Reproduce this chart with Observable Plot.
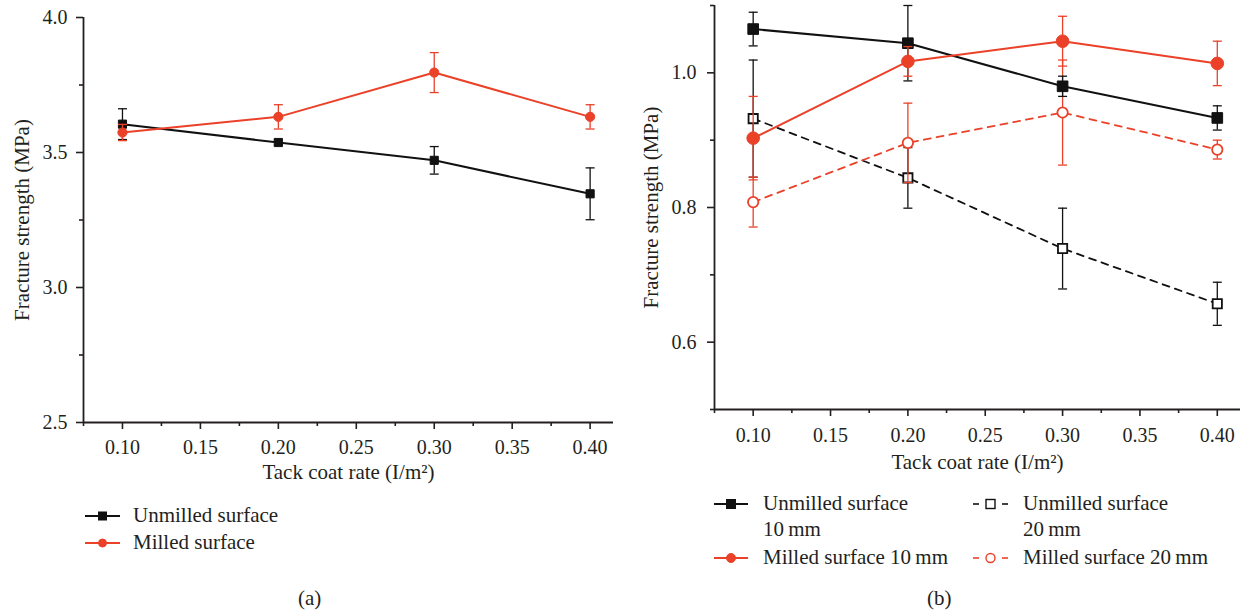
<!DOCTYPE html>
<html><head><meta charset="utf-8">
<script src="https://cdn.jsdelivr.net/npm/d3@7"></script>
<script src="https://cdn.jsdelivr.net/npm/@observablehq/plot@0.6"></script>
<style>
body{margin:0;background:#fff;}
#wrap{position:relative;width:1242px;height:614px;font-family:"Liberation Serif",serif;color:#231f20;overflow:hidden;}
.pl{position:absolute;top:0;}
.lg{position:absolute;font-size:21px;line-height:21px;white-space:nowrap;}
</style></head><body><div id="wrap"></div>
<script>
// ---- data ----
const rates = [0.10, 0.20, 0.30, 0.40];
const aUnmilled = [3.605, 3.537, 3.471, 3.347];
const aUnmilledErr = [0.057, 0.010, 0.051, 0.096];
const aMilled = [3.574, 3.632, 3.796, 3.632];
const aMilledErr = [0.030, 0.045, 0.074, 0.045];
const bUnmilled10 = [1.065, 1.044, 0.980, 0.933];
const bUnmilled10Err = [0.025, 0.056, 0.015, 0.018];
const bMilled10 = [0.903, 1.017, 1.047, 1.014];
const bMilled10Err = [0.062, 0.022, 0.037, 0.033];
const bUnmilled20 = [0.932, 0.844, 0.739, 0.657];
const bUnmilled20Err = [0.087, 0.045, 0.060, 0.032];
const bMilled20 = [0.808, 0.896, 0.941, 0.886];
const bMilled20Err = [0.037, 0.059, 0.078, 0.014];
const xTicks = [0.10, 0.15, 0.20, 0.25, 0.30, 0.35, 0.40];
const xMinor = [0.075, 0.125, 0.175, 0.225, 0.275, 0.325, 0.375];
const aYTicks = [2.5, 3.0, 3.5, 4.0];
const aYMinor = [2.75, 3.25, 3.75];
const bYTicks = [0.6, 0.8, 1.0];
const bYMinor = [0.5, 0.7, 0.9, 1.1];
const xDomain = [0.075, 0.415];
const aYDomain = [2.5, 4.0];
const bYDomain = [0.5, 1.1];
const xTitle = "Tack coat rate (I/m\u00B2)";
const yTitle = "Fracture strength (MPa)";
const legendA = ["Unmilled surface", "Milled surface"];
const legendB = [["Unmilled surface", "10\u2009mm"], ["Milled surface 10\u2009mm"], ["Unmilled surface", "20\u2009mm"], ["Milled surface 20\u2009mm"]];

const RED = "#ea4128", BLK = "#111", TXT = "#231f20";
const cap = {draw(ctx, size){ const r = Math.sqrt(size / Math.PI); ctx.moveTo(-r, 0); ctx.lineTo(r, 0); }};

function rows(vals, errs){ return rates.map((x, i) => ({x, y: vals[i], lo: vals[i] - errs[i], hi: vals[i] + errs[i]})); }

function seriesMarks(data, o){
  return [
    Plot.ruleX(data, {x: "x", y1: "lo", y2: "hi", stroke: o.color, strokeWidth: 1.3}),
    Plot.dot(data, {x: "x", y: "lo", symbol: cap, r: 4.5, stroke: o.color, strokeWidth: 1.3}),
    Plot.dot(data, {x: "x", y: "hi", symbol: cap, r: 4.5, stroke: o.color, strokeWidth: 1.3}),
    Plot.line(data, {x: "x", y: "y", stroke: o.color, strokeWidth: o.width, strokeDasharray: o.dash}),
    Plot.dot(data, {x: "x", y: "y", symbol: o.symbol, r: o.r, fill: o.fill, stroke: o.color, strokeWidth: o.sw || 1})
  ];
}

function axes(yTicks, yMinor, yDom, pad){
  return [
    Plot.axisX({ticks: xTicks, tickSize: 7, tickPadding: pad.x, tickFormat: d3.format(".2f"), strokeWidth: 1.6, label: null, fill: TXT, fontSize: 20}),
    Plot.axisX({ticks: xMinor, tickSize: 4, tickFormat: () => "", strokeWidth: 1.6, label: null}),
    Plot.axisY({ticks: yTicks, tickSize: 7, tickPadding: pad.y, tickFormat: d3.format(".1f"), strokeWidth: 1.6, label: null, fill: TXT, fontSize: 20}),
    Plot.axisY({ticks: yMinor, tickSize: 4, tickFormat: () => "", strokeWidth: 1.6, label: null}),
    Plot.ruleY([yDom[0]], {strokeWidth: 1.8}),
    Plot.ruleX([xDomain[0]], {strokeWidth: 1.8}),
    Plot.text([yTitle], {text: d => d, frameAnchor: "left", textAnchor: "middle", dx: pad.ytx, rotate: -90, fontSize: 21, fill: TXT}),
    Plot.text([xTitle], {text: d => d, frameAnchor: "bottom", textAnchor: "middle", dy: pad.xty, lineAnchor: "bottom", fontSize: 21, fill: TXT})
  ];
}

const style = {fontFamily: '"Liberation Serif", serif', fontSize: "20px", color: TXT, background: "transparent", overflow: "visible"};

const left = Plot.plot({
  width: 620, height: 480, marginLeft: 83, marginRight: 7, marginTop: 17, marginBottom: 58,
  style,
  x: {domain: xDomain}, y: {domain: aYDomain},
  marks: [
    ...axes(aYTicks, aYMinor, aYDomain, {x: 10, y: 9, ytx: -61, xty: 56}),
    ...seriesMarks(rows(aUnmilled, aUnmilledErr), {color: BLK, symbol: "square", r: 4.6, fill: BLK, width: 2}),
    ...seriesMarks(rows(aMilled, aMilledErr), {color: RED, symbol: "circle", r: 4.6, fill: RED, width: 2})
  ]
});

const right = Plot.plot({
  width: 622, height: 480, marginLeft: 94, marginRight: 2, marginTop: 5, marginBottom: 71,
  style,
  x: {domain: xDomain}, y: {domain: bYDomain},
  marks: [
    ...axes(bYTicks, bYMinor, bYDomain, {x: 11, y: 11, ytx: -63, xty: 59}),
    ...seriesMarks(rows(bUnmilled20, bUnmilled20Err), {color: BLK, symbol: "square", r: 5.2, fill: "white", width: 1.8, dash: "7,6", sw: 1.8}),
    ...seriesMarks(rows(bMilled20, bMilled20Err), {color: RED, symbol: "circle", r: 5.2, fill: "white", width: 1.8, dash: "7,6", sw: 1.8}),
    ...seriesMarks(rows(bUnmilled10, bUnmilled10Err), {color: BLK, symbol: "square", r: 6, fill: BLK, width: 2}),
    ...seriesMarks(rows(bMilled10, bMilled10Err), {color: RED, symbol: "circle", r: 6.3, fill: RED, width: 2})
  ]
});

const wrap = document.getElementById("wrap");
left.classList.add("pl"); left.style.left = "0px";
right.classList.add("pl"); right.style.left = "620px";
wrap.appendChild(left); wrap.appendChild(right);

// ---- legends ----
function addText(txt, x, cy){
  const d = document.createElement("div");
  d.className = "lg"; d.textContent = txt;
  d.style.left = x + "px"; d.style.top = (cy - 11.5) + "px";
  wrap.appendChild(d);
}
const ns = "http://www.w3.org/2000/svg";
const sw = document.createElementNS(ns, "svg");
sw.setAttribute("width", 1242); sw.setAttribute("height", 614);
sw.style.position = "absolute"; sw.style.left = "0"; sw.style.top = "0"; sw.style.pointerEvents = "none";
wrap.appendChild(sw);
function el(tag, attrs){ const e = document.createElementNS(ns, tag); for (const k in attrs) e.setAttribute(k, attrs[k]); sw.appendChild(e); return e; }
function swatch(x0, x1, cy, color, shape, filled, dashed, size){
  const cx = (x0 + x1) / 2;
  if (dashed) {
    el("line", {x1: x0, x2: x0 + 6, y1: cy, y2: cy, stroke: color, "stroke-width": 1.6});
    el("line", {x1: x1 - 6, x2: x1, y1: cy, y2: cy, stroke: color, "stroke-width": 1.6});
  } else {
    el("line", {x1: x0, x2: x1, y1: cy, y2: cy, stroke: color, "stroke-width": 2});
  }
  if (shape === "square") el("rect", {x: cx - size / 2, y: cy - size / 2, width: size, height: size, fill: filled ? color : "white", stroke: color, "stroke-width": filled ? 1 : 1.4});
  else el("circle", {cx, cy, r: size / 2, fill: filled ? color : "white", stroke: color, "stroke-width": filled ? 1 : 1.4});
}
// (a)
swatch(85, 120, 516, BLK, "square", true, false, 8);
addText(legendA[0], 133, 516);
swatch(85, 120, 543, RED, "circle", true, false, 8);
addText(legendA[1], 133, 543);
// (b)
swatch(714, 748, 504, BLK, "square", true, false, 9);
addText(legendB[0][0], 763, 504); addText(legendB[0][1], 763, 530);
swatch(714, 748, 558, RED, "circle", true, false, 9);
addText(legendB[1][0], 763, 558);
swatch(973, 1008, 504, BLK, "square", false, true, 9);
addText(legendB[2][0], 1023, 504); addText(legendB[2][1], 1023, 530);
swatch(973, 1008, 558, RED, "circle", false, true, 9);
addText(legendB[3][0], 1023, 558);
// panel letters
const pa = document.createElement("div"); pa.className = "lg"; pa.textContent = "(a)"; pa.style.left = "298px"; pa.style.top = "588px"; wrap.appendChild(pa);
const pb = document.createElement("div"); pb.className = "lg"; pb.textContent = "(b)"; pb.style.left = "927px"; pb.style.top = "588px"; wrap.appendChild(pb);
</script></body></html>
